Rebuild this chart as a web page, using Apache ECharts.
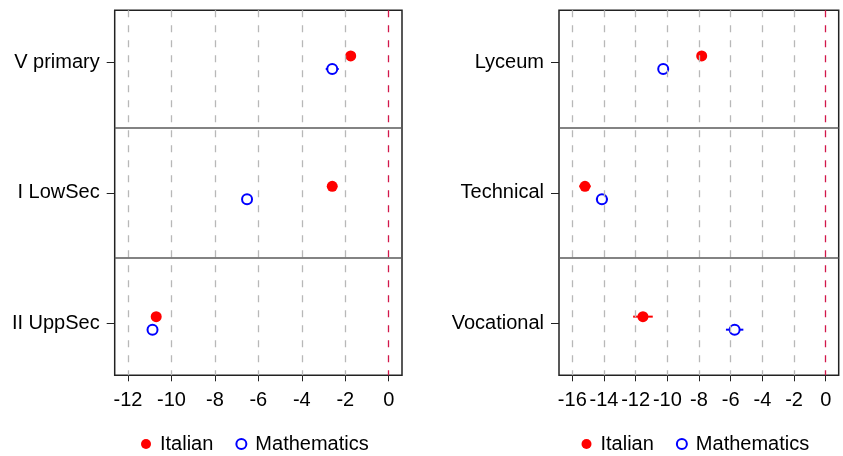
<!DOCTYPE html>
<html>
<head>
<meta charset="utf-8">
<script src="https://cdn.jsdelivr.net/npm/echarts@6/dist/echarts.min.js"></script>
<style>html,body{margin:0;padding:0;background:#fff;}#c{width:843px;height:456px;}</style>
</head>
<body>
<div id="c"></div>
<script>
const leftCats = ['V primary', 'I LowSec', 'II UppSec'];
const rightCats = ['Lyceum', 'Technical', 'Vocational'];
const leftItalian = [-1.75, -2.6, -10.7];
const leftMath = [-2.6, -6.52, -10.87];
const leftItalianCI = [0.2, 0.2, 0.2];
const leftMathCI = [0.3, 0.2, 0.2];
const rightItalian = [-7.83, -15.2, -11.54];
const rightMath = [-10.26, -14.13, -5.75];
const rightItalianCI = [0.2, 0.36, 0.62];
const rightMathCI = [0.2, 0.38, 0.55];
const leftTicks = [-12, -10, -8, -6, -4, -2, 0];
const rightTicks = [-16, -14, -12, -10, -8, -6, -4, -2, 0];
const seriesNames = ['Italian', 'Mathematics'];

const FONT = "'Liberation Sans', Arial, sans-serif";
const RED = '#ff0000', BLUE = '#0000ff';
const OFF = 0.05;

const chart = echarts.init(document.getElementById('c'));

function xAxisDef(gi, min, max, ticks) {
  return {
    type: 'value', gridIndex: gi, min: min, max: max, position: 'bottom',
    axisLine: { show: false, onZero: false },
    axisTick: { show: true, customValues: ticks, length: 6, lineStyle: { color: '#222', width: 1 } },
    axisLabel: { customValues: ticks, fontSize: 20, margin: 15, color: '#000', fontFamily: FONT },
    splitLine: { show: false }
  };
}
function yAxisDef(gi, cats) {
  return {
    type: 'value', gridIndex: gi, min: 0.6, max: 3.4, inverse: true, position: 'left',
    axisLine: { show: false, onZero: false },
    axisTick: { show: true, customValues: [1, 2, 3], length: 8, lineStyle: { color: '#222', width: 1 } },
    axisLabel: { customValues: [1, 2, 3], fontSize: 20, margin: 15, color: '#000', fontFamily: FONT,
      padding: [3, 0, 0, 0],
      formatter: function (v) { return cats[Math.round(v) - 1]; } },
    splitLine: { show: false }
  };
}
function guideSeries(gi, ticks) {
  const data = [];
  ticks.forEach(function (t) {
    data.push({ xAxis: t, lineStyle: { color: t === 0 ? '#d2174a' : '#b8b8b8', type: [7, 8], width: 1.3 } });
  });
  data.push({ yAxis: 1.5, lineStyle: { color: '#5a5a5a', type: 'solid', width: 1.5 } });
  data.push({ yAxis: 2.5, lineStyle: { color: '#5a5a5a', type: 'solid', width: 1.5 } });
  return {
    type: 'line', name: 'guides' + gi, xAxisIndex: gi, yAxisIndex: gi, data: [], z: 1,
    markLine: { silent: true, symbol: 'none', label: { show: false }, animation: false, data: data }
  };
}
function errSeries(gi, vals, ci, off, color) {
  return {
    type: 'custom', name: 'ci' + gi + color, xAxisIndex: gi, yAxisIndex: gi, z: 2,
    data: vals.map(function (v, i) { return [v - ci[i], v + ci[i], i + 1 + off]; }),
    encode: { x: [0, 1], y: 2 },
    renderItem: function (params, api) {
      const p1 = api.coord([api.value(0), api.value(2)]);
      const p2 = api.coord([api.value(1), api.value(2)]);
      return { type: 'line', shape: { x1: p1[0], y1: p1[1], x2: p2[0], y2: p2[1] }, style: { stroke: color, lineWidth: 2 } };
    }
  };
}
function ptSeries(gi, name, vals, off) {
  const isIt = name === 'Italian';
  return {
    type: 'scatter', name: name, xAxisIndex: gi, yAxisIndex: gi, z: 3,
    symbol: 'circle', symbolSize: isIt ? 11 : 10,
    itemStyle: isIt ? { color: RED, opacity: 1 } : { color: '#ffffff', borderColor: BLUE, borderWidth: 2, opacity: 1 },
    data: vals.map(function (v, i) { return [v, i + 1 + off]; })
  };
}
function legendDef(left) {
  return {
    left: left, top: 429, itemWidth: 10, itemHeight: 10, itemGap: 22, icon: 'circle',
    selectedMode: false,
    textStyle: { fontSize: 20, color: '#000', fontFamily: FONT, padding: [0, 0, 0, 4] },
    data: [
      { name: seriesNames[0], icon: 'circle', itemStyle: { color: RED, borderWidth: 0 } },
      { name: seriesNames[1], icon: 'circle', itemStyle: { color: '#ffffff', borderColor: BLUE, borderWidth: 2 } }
    ]
  };
}

const option = {
  animation: false,
  backgroundColor: '#ffffff',
  grid: [
    { left: 114.7, top: 10.3, width: 287.3, height: 365, show: true, borderColor: '#222', borderWidth: 1.5, backgroundColor: 'transparent' },
    { left: 559, top: 10.3, width: 279.7, height: 365, show: true, borderColor: '#222', borderWidth: 1.5, backgroundColor: 'transparent' }
  ],
  xAxis: [xAxisDef(0, -12.61, 0.61, leftTicks), xAxisDef(1, -16.84, 0.82, rightTicks)],
  yAxis: [yAxisDef(0, leftCats), yAxisDef(1, rightCats)],
  legend: [legendDef(136), legendDef(576.5)],
  series: [
    guideSeries(0, leftTicks), guideSeries(1, rightTicks),
    errSeries(0, leftItalian, leftItalianCI, -OFF, RED),
    errSeries(0, leftMath, leftMathCI, OFF, BLUE),
    errSeries(1, rightItalian, rightItalianCI, -OFF, RED),
    errSeries(1, rightMath, rightMathCI, OFF, BLUE),
    ptSeries(0, seriesNames[0], leftItalian, -OFF),
    ptSeries(0, seriesNames[1], leftMath, OFF),
    ptSeries(1, seriesNames[0], rightItalian, -OFF),
    ptSeries(1, seriesNames[1], rightMath, OFF)
  ]
};
chart.setOption(option);
</script>
</body>
</html>
